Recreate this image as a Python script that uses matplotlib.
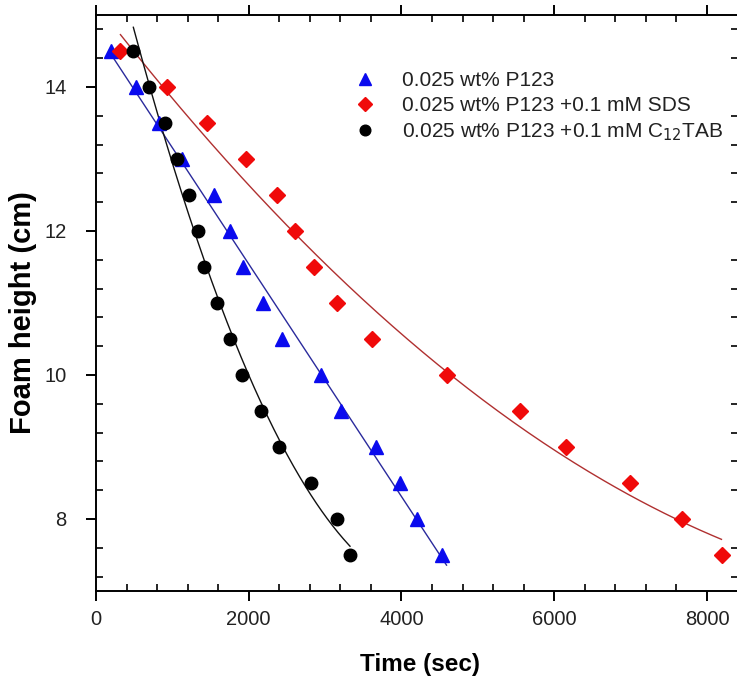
import numpy as np
import matplotlib
matplotlib.use("Agg")
import matplotlib.pyplot as plt
from matplotlib import font_manager
from matplotlib.ticker import MultipleLocator

names = {f.name for f in font_manager.fontManager.ttflist}
NARROW = 'Liberation Sans Narrow' if 'Liberation Sans Narrow' in names else 'Liberation Sans'
REG = 'Liberation Sans'
plt.rcParams['font.family'] = [REG, 'DejaVu Sans']

# ---- data ----
heights = [14.5, 14.0, 13.5, 13.0, 12.5, 12.0, 11.5, 11.0, 10.5, 10.0, 9.5, 9.0, 8.5, 8.0, 7.5]
t_p123 = [190, 530, 820, 1120, 1540, 1750, 1920, 2190, 2440, 2940, 3210, 3670, 3980, 4200, 4530]
t_sds = [320, 930, 1460, 1960, 2370, 2610, 2850, 3160, 3610, 4600, 5550, 6150, 6990, 7670, 8200]
t_c12 = [490, 690, 910, 1065, 1220, 1330, 1420, 1580, 1750, 1910, 2160, 2390, 2820, 3160, 3330]

labels = ['0.025 wt% P123',
          '0.025 wt% P123 +0.1 mM SDS',
          '0.025 wt% P123 +0.1 mM C$_{12}$TAB']

# fitted curve ranges (time) and polynomial degree
fit_p123 = (200, 4590, 1)
fit_sds = (320, 8190, 2)
fit_c12 = (489, 3326, 2)

fig = plt.figure(figsize=(7.37, 6.86), dpi=100)
W, H = 737, 686
L, R, T, B = 96, 737.5, 15, 591
ax = fig.add_axes([L / W, 1 - B / H, (R - L) / W, (B - T) / H])

def fit_line(x, y, rng, color):
    a, b, deg = rng
    c = np.polyfit(x, y, deg)
    xs = np.linspace(a, b, 200)
    ax.plot(xs, np.polyval(c, xs), color=color, lw=1.0, zorder=2)

fit_line(t_p123, heights, fit_p123, '#2a2a9c')
fit_line(t_sds, heights, fit_sds, '#b03030')
fit_line(t_c12, heights, fit_c12, '#111111')

h1, = ax.plot(t_p123, heights, linestyle='none', marker='^', ms=9.5, color='#0a0aee',
              mec='#0a0aee', zorder=3)
h2, = ax.plot(t_sds, heights, linestyle='none', marker='D', ms=8, color='#f00a0a',
              mec='#f00a0a', zorder=3)
h3, = ax.plot(t_c12, heights, linestyle='none', marker='o', ms=9, color='black', zorder=4)

ax.set_xlim(0, 8400)
ax.set_ylim(7, 15)
ax.xaxis.set_major_locator(MultipleLocator(2000))
ax.xaxis.set_minor_locator(MultipleLocator(400))
ax.yaxis.set_major_locator(MultipleLocator(2))
ax.yaxis.set_minor_locator(MultipleLocator(0.4))

for s in ax.spines.values():
    s.set_linewidth(1.4)
ax.tick_params(which='major', direction='out', length=7, width=1.4, labelsize=14.5,
               top=True, right=True)
ax.tick_params(which='minor', direction='in', length=5, width=1.2, top=True, right=True)
ax.tick_params(axis='x', which='major', pad=7)
ax.tick_params(axis='y', which='major', pad=14)
for lab in ax.get_xticklabels() + ax.get_yticklabels():
    lab.set_color('#222222')

ax.set_xlabel('Time (sec)', fontsize=17.5, fontweight='bold', va='center')
ax.xaxis.set_label_coords(0.505, -0.128)
ax.set_ylabel('Foam height (cm)', fontsize=21, fontweight='bold', va='center')
ax.yaxis.set_label_coords(-0.114, 0.483)

leg = ax.legend([h1, h2, h3], labels, loc='upper left', bbox_to_anchor=(0.390, 0.917),
                frameon=False, fontsize=15, handlelength=1.0, handletextpad=1.28,
                labelspacing=0.3, borderaxespad=0, borderpad=0.4, numpoints=1,
                markerscale=0.85)
for t in leg.get_texts():
    t.set_color('#222222')

fig.savefig('out.png', dpi=100)
